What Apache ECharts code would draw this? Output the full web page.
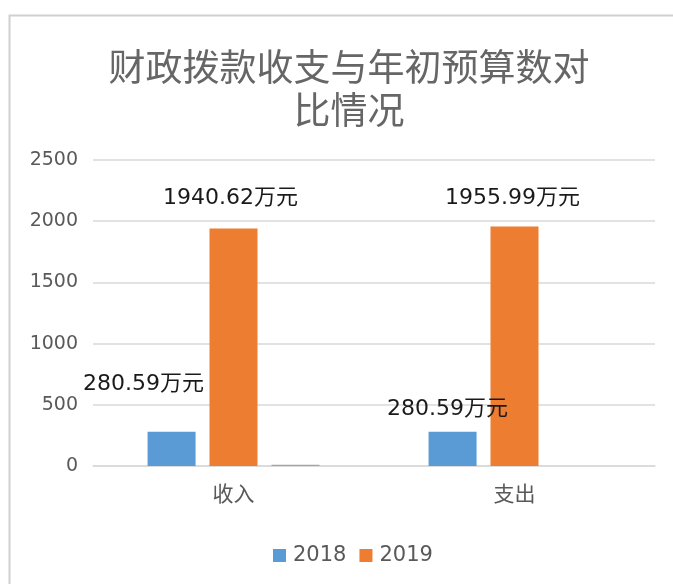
<!DOCTYPE html>
<html>
<head>
<meta charset="utf-8">
<script src="https://cdn.jsdelivr.net/npm/echarts@6/dist/echarts.min.js"></script>
<style>html,body{margin:0;padding:0;background:#fff}#c{width:673px;height:584px}</style>
</head>
<body>
<div id="c"></div>
<script>
const titleText = '财政拨款收支与年初预算数对\n比情况';
const categories = ['收入', '支出'];
const series2018 = [280.59, 280.59];
const series2019 = [1940.62, 1955.99];
const seriesOther = [10, 0];
const legendNames = ['2018', '2019'];
const yTicks = { min: 0, max: 2500, interval: 500 };

const labelOffsets2018 = [[-28, -36], [-5, -11]];
const labelOffsets2019 = [[-3, -19], [-2, -17]];

const labelFont = { fontFamily: 'DejaVu Sans, Noto Sans CJK SC', fontSize: 22, color: '#1a1a1a' };

function withLabels(vals, offsets) {
  return vals.map((v, i) => ({
    value: v,
    label: { show: true, position: 'top', distance: 0, offset: offsets[i], formatter: p => p.value + '万元', ...labelFont }
  }));
}

const chart = echarts.init(document.getElementById('c'), null, { renderer: 'canvas' });
chart.setOption({
  backgroundColor: '#fff',
  animation: false,
  graphic: [{
    type: 'rect', z: -10,
    shape: { x: 9.5, y: 15.5, width: 700, height: 600 },
    style: { fill: '#fff', stroke: '#d0d0d0', lineWidth: 2 }
  }],
  title: {
    text: titleText,
    left: 344, top: 40, textAlign: 'center',
    textStyle: { fontFamily: 'Noto Sans CJK SC', fontWeight: 'normal', fontSize: 37, lineHeight: 43, color: '#666666' }
  },
  legend: {
    data: legendNames,
    left: 268, top: 540,
    itemWidth: 13, itemHeight: 13, itemGap: 13,
    icon: 'rect',
    textStyle: { fontFamily: 'DejaVu Sans', fontSize: 21, color: '#595959', padding: [0, 0, 0, 2] }
  },
  grid: { left: 93, right: 18, top: 160, bottom: 118 },
  xAxis: {
    type: 'category', data: categories,
    axisLine: { lineStyle: { color: '#d9d9d9', width: 1.5 } },
    axisTick: { show: false },
    axisLabel: { fontFamily: 'Noto Sans CJK SC', fontSize: 21, color: '#595959', margin: 17 }
  },
  yAxis: {
    type: 'value', min: yTicks.min, max: yTicks.max, interval: yTicks.interval,
    axisLine: { show: false }, axisTick: { show: false },
    splitLine: { lineStyle: { color: '#d9d9d9', width: 1.5 } },
    axisLabel: { fontFamily: 'DejaVu Sans', fontSize: 19, color: '#595959', margin: 15, formatter: v => String(v) }
  },
  series: [
    { name: '2018', type: 'bar', data: withLabels(series2018, labelOffsets2018), itemStyle: { color: '#5b9bd5' }, barWidth: 48, barGap: '29%' },
    { name: '2019', type: 'bar', data: withLabels(series2019, labelOffsets2019), itemStyle: { color: '#ed7d31' }, barWidth: 48, barGap: '29%' },
    { name: '其他', type: 'bar', data: seriesOther, itemStyle: { color: '#a5a5a5' }, barWidth: 48, barGap: '29%' }
  ]
});
</script>
</body>
</html>
